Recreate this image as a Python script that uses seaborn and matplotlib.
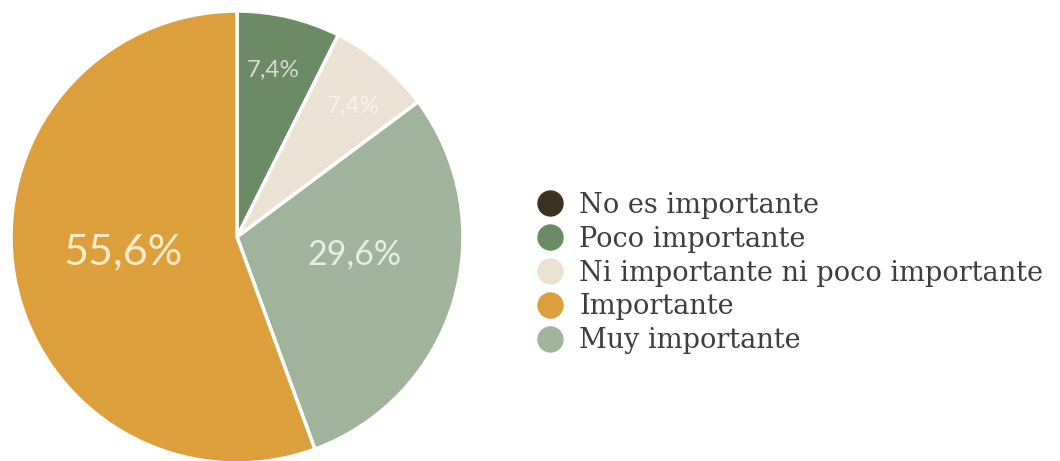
import matplotlib
matplotlib.use("Agg")
import matplotlib.pyplot as plt
import seaborn as sns
import numpy as np
from matplotlib.lines import Line2D

sns.set_theme(style="white")

# Legend categories (in legend order)
legend_labels = ["No es importante", "Poco importante", "Ni importante ni poco importante",
                 "Importante", "Muy importante"]
legend_colors = ["#3b3320", "#6b8b64", "#ece2d4", "#dc9f3b", "#9fb49b"]

# Pie slices (clockwise from top)
slice_labels = ["Poco importante", "Ni importante ni poco importante", "Muy importante", "Importante"]
slice_values = [7.4, 7.4, 29.6, 55.6]
slice_texts = ["7,4%", "7,4%", "29,6%", "55,6%"]

# label styling / placement (fraction of radius, angle offset in degrees)
label_radius = [0.756, 0.774, 0.523, 0.507]
label_angle_offset = [1.0, -1.5, 8.3, -2.3]
label_size = [17.5, 17.5, 24.5, 31]
label_color = ["#d3ded0", "#f7f2eb", "#e6eee4", "#fcebc8"]

W, H = 1060, 461
fig = plt.figure(figsize=(W / 100, H / 100), dpi=100)
fig.patch.set_facecolor("white")

cx, cy, r = 237, 237, 226
ax = fig.add_axes([(cx - r) / W, (H - cy - r) / H, 2 * r / W, 2 * r / H])
colors = [legend_colors[legend_labels.index(s)] for s in slice_labels]
wedges, _ = ax.pie(slice_values, colors=colors, startangle=90, counterclock=False,
                   radius=1, wedgeprops=dict(edgecolor="white", linewidth=2.5))
ax.set_xlim(-1, 1)
ax.set_ylim(-1, 1)
ax.set_aspect("auto")
ax.axis("off")

for w, t, rr, da, fs, c in zip(wedges, slice_texts, label_radius, label_angle_offset,
                               label_size, label_color):
    ang = np.deg2rad((w.theta1 + w.theta2) / 2 + da)
    ax.text(rr * np.cos(ang), rr * np.sin(ang), t, ha="center", va="center",
            fontsize=fs, color=c, family="Lato")

handles = [Line2D([0], [0], marker="o", linestyle="", markersize=18,
                  markerfacecolor=c, markeredgecolor=c) for c in legend_colors]
leg = fig.legend(handles, legend_labels, loc="center left",
                 bbox_to_anchor=(536 / W, 1 - 273 / H), frameon=False,
                 prop=dict(family="DejaVu Serif", size=19.5),
                 handletextpad=0.6, labelspacing=0.25, handlelength=1.0, borderpad=0,
                 borderaxespad=0)
for t in leg.get_texts():
    t.set_color("#3e3e3e")

fig.savefig("out.png", dpi=100, facecolor="white")
